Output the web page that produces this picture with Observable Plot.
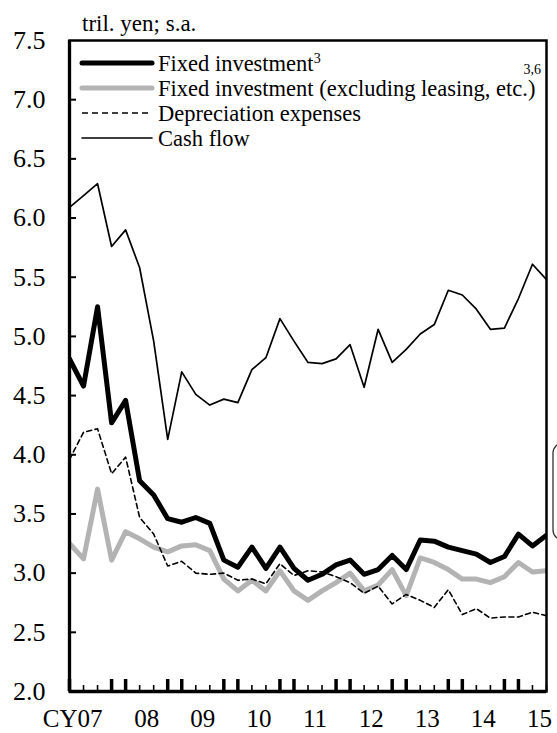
<!DOCTYPE html>
<html><head><meta charset="utf-8">
<script src="https://cdn.jsdelivr.net/npm/d3@7"></script>
<script src="https://cdn.jsdelivr.net/npm/@observablehq/plot@0.6"></script>
<style>
body{margin:0;background:#fff}
#chart{position:relative;width:557px;height:733px;overflow:hidden;background:#fff}
</style>
</head><body><div id="chart"></div>
<script>
const quarters = ["07Q1","07Q2","07Q3","07Q4","08Q1","08Q2","08Q3","08Q4","09Q1","09Q2","09Q3","09Q4",
  "10Q1","10Q2","10Q3","10Q4","11Q1","11Q2","11Q3","11Q4","12Q1","12Q2","12Q3","12Q4",
  "13Q1","13Q2","13Q3","13Q4","14Q1","14Q2","14Q3","14Q4","15Q1","15Q2","15Q3"];
const fixedInvestment = [4.81,4.58,5.25,4.27,4.46,3.78,3.66,3.46,3.43,3.47,3.42,3.11,3.05,3.22,3.04,3.22,3.04,2.94,2.99,3.07,3.11,2.99,3.03,3.15,3.03,3.28,3.27,3.22,3.19,3.16,3.09,3.14,3.33,3.23,3.32];
const fixedInvestmentExLeasing = [3.25,3.12,3.71,3.11,3.35,3.29,3.22,3.18,3.23,3.24,3.19,2.95,2.85,2.94,2.85,3.02,2.85,2.77,2.85,2.92,3.00,2.85,2.90,3.03,2.81,3.13,3.09,3.03,2.95,2.95,2.92,2.97,3.09,3.01,3.02];
const depreciation = [3.96,4.19,4.22,3.84,3.98,3.47,3.33,3.06,3.10,3.00,2.99,3.00,2.94,2.95,2.91,3.08,2.98,3.02,3.01,2.97,2.92,2.83,2.89,2.74,2.82,2.77,2.71,2.86,2.65,2.70,2.62,2.63,2.63,2.67,2.64];
const cashFlow = [6.09,6.19,6.29,5.76,5.90,5.58,4.96,4.13,4.70,4.51,4.42,4.47,4.44,4.72,4.82,5.15,4.96,4.78,4.77,4.81,4.93,4.57,5.06,4.78,4.89,5.02,5.10,5.39,5.35,5.23,5.06,5.07,5.32,5.61,5.48];
const yearLabels = ["CY07","08","09","10","11","12","13","14","15"];
const yTicks = [2.0,2.5,3.0,3.5,4.0,4.5,5.0,5.5,6.0,6.5,7.0,7.5];
const legendLabels = ["Fixed investment","Fixed investment (excluding leasing, etc.)","Depreciation expenses","Cash flow"];
const unitLabel = "tril. yen; s.a.";

const rows = quarters.map((q, i) => ({i, q, fi: fixedInvestment[i], fiEx: fixedInvestmentExLeasing[i], dep: depreciation[i], cf: cashFlow[i]}));
const majorTicks = rows.filter(d => d.q.endsWith("Q1") || d.q.endsWith("Q4")).map(d => d.i);
const minorTicks = rows.filter(d => d.q.endsWith("Q2") || d.q.endsWith("Q3")).map(d => d.i);
const years = yearLabels.map(label => ({label, pos: rows.findIndex(d => d.q.endsWith("Q1") && d.q.startsWith(label.slice(-2))) + 1.5}));

const FONT = "'Liberation Serif','Times New Roman',serif";

const plot = Plot.plot({
  width: 557, height: 733,
  marginLeft: 69, marginRight: 11, marginTop: 40, marginBottom: 42,
  style: {fontFamily: FONT, fontSize: "26px", color: "#000", background: "#fff", overflow: "visible"},
  x: {domain: [0, quarters.length - 1], axis: null},
  y: {domain: [2, 7.5], axis: null},
  marks: [
    Plot.lineY(rows, {x: "i", y: "fiEx", stroke: "#b3b3b3", strokeWidth: 5, clip: true}),
    Plot.lineY(rows, {x: "i", y: "dep", stroke: "#000", strokeWidth: 1.6, strokeDasharray: "5,3.5", clip: true}),
    Plot.lineY(rows, {x: "i", y: "fi", stroke: "#000", strokeWidth: 5, clip: true}),
    Plot.lineY(rows, {x: "i", y: "cf", stroke: "#000", strokeWidth: 1.7, clip: true}),
    Plot.ruleY(yTicks.slice(1, -1), {x1: 0, x2: 0, insetRight: -7, stroke: "#000", strokeWidth: 2}),
    Plot.text(yTicks, {y: d => d, text: d => d.toFixed(1), frameAnchor: "left", textAnchor: "end", dx: -24, fontSize: 26}),
    Plot.ruleX(majorTicks, {x: d => d, y1: 2, y2: 2, insetTop: -12, stroke: "#000", strokeWidth: 3.5}),
    Plot.ruleX(minorTicks, {x: d => d, y1: 2, y2: 2, insetTop: -6, stroke: "#000", strokeWidth: 1.6}),
    Plot.text(years.slice(0, 1), {x: "pos", text: "label", frameAnchor: "bottom", lineAnchor: "top", dy: 18, dx: 12, textAnchor: "end", fontSize: 25}),
    Plot.text(years.slice(1), {x: "pos", text: "label", frameAnchor: "bottom", lineAnchor: "top", dy: 18, fontSize: 25}),
    Plot.frame({stroke: "#000", strokeWidth: 2.5}),
    Plot.ruleX([0], {stroke: "#000", strokeWidth: 3.3}),
    Plot.ruleY([2], {stroke: "#000", strokeWidth: 3.3})
  ]
});
document.getElementById("chart").appendChild(plot);

const svg = d3.select(plot);
// unit label
svg.append("text").attr("x", 82).attr("y", 31).attr("text-anchor", "start").attr("font-family", FONT).attr("font-size", 23).attr("fill", "#000").text(unitLabel);

// legend
const styles = [
  {stroke: "#000", width: 5, dash: null},
  {stroke: "#b3b3b3", width: 5, dash: null},
  {stroke: "#000", width: 1.6, dash: "6,4"},
  {stroke: "#000", width: 1.6, dash: null}
];
const lg = svg.append("g").attr("text-anchor", "start");
legendLabels.forEach((lab, k) => {
  const y = 63 + k * 25;
  const s = styles[k];
  const ln = lg.append("line").attr("x1", 82).attr("x2", 152).attr("y1", y).attr("y2", y)
    .attr("stroke", s.stroke).attr("stroke-width", s.width).attr("stroke-linecap", s.dash ? "butt" : "round");
  if (s.dash) ln.attr("stroke-dasharray", s.dash);
  const t = lg.append("text").attr("x", 158).attr("y", y + 7.5).attr("text-anchor", "start").attr("font-family", FONT).attr("font-size", 22.5).attr("fill", "#000").text(lab);
  if (k === 0) t.append("tspan").attr("font-size", 14).attr("dy", -8).text("3");
});
lg.append("text").attr("x", 541).attr("y", 74).attr("text-anchor", "end").attr("font-family", FONT).attr("font-size", 14).attr("fill", "#000").text("3,6");

// partial box of the neighbouring panel at the right edge
svg.append("rect").attr("x", 553).attr("y", 443).attr("width", 40).attr("height", 97).attr("rx", 10)
  .attr("fill", "none").attr("stroke", "#333").attr("stroke-width", 1.3);
</script>
</body></html>
